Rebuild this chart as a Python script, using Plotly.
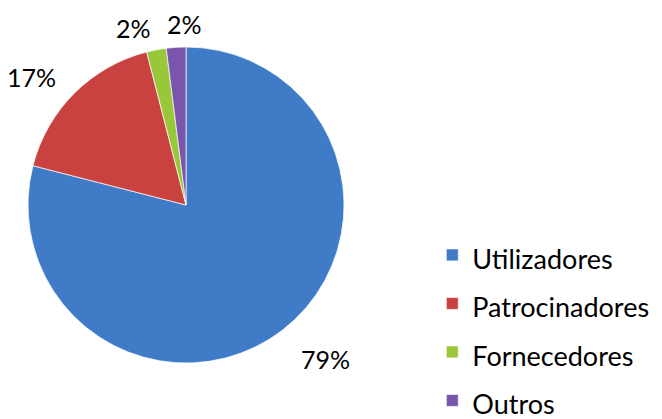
import plotly.graph_objects as go

# ---------------- DATA ----------------
labels = ['Utilizadores', 'Patrocinadores', 'Fornecedores', 'Outros']
values = [79, 17, 2, 2]
colors = ['#3F7BC7', '#C9423F', '#98C83A', '#7A55AC']

# label positions (paper coords) for the % annotations
label_pos = [(0.491, 0.143), (0.048, 0.816), (0.201, 0.933), (0.279, 0.943)]

W, H = 662, 419
cx, cy, r = 186, 205, 158

fig = go.Figure(go.Pie(
    labels=[f"<span style='font-size:27px'>{l}</span>" for l in labels],
    values=values,
    sort=False,
    direction='clockwise',
    rotation=0,
    marker=dict(colors=colors, line=dict(color='rgba(255,255,255,0.7)', width=1)),
    textinfo='none',
    hoverinfo='label+percent',
    domain=dict(x=[(cx - r) / W, (cx + r) / W],
                y=[(H - cy - r) / H, (H - cy + r) / H]),
))

tot = sum(values)
for v, (x, y) in zip(values, label_pos):
    fig.add_annotation(x=x, y=y, xref='paper', yref='paper', showarrow=False,
                       xanchor='center', yanchor='middle',
                       text=f"{round(100 * v / tot)}%",
                       font=dict(size=25, color='black', family='Lato'))

fig.update_layout(
    width=W, height=H,
    margin=dict(l=0, r=0, t=0, b=0, autoexpand=False),
    paper_bgcolor='white',
    plot_bgcolor='white',
    font=dict(family='Lato', color='black'),
    legend=dict(
        x=0.653, y=0.4615, xanchor='left', yanchor='top',
        font=dict(size=35, color='black'),
        bgcolor='rgba(0,0,0,0)',
        itemclick=False,
    ),
)

# page body has a default 8px margin; drop it so the figure fills the window
fig.write_html("out.html", config={'displayModeBar': False},
               post_script="document.body.style.margin='0';")
